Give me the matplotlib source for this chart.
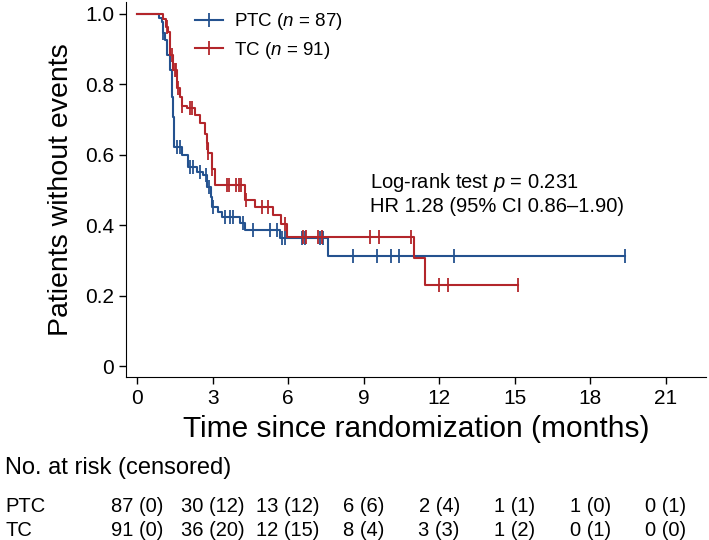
import numpy as np
import matplotlib
matplotlib.use("Agg")
import matplotlib.pyplot as plt
from matplotlib.lines import Line2D
import matplotlib.transforms as mtransforms

plt.rcParams['font.family'] = ['Liberation Sans', 'DejaVu Sans']
plt.rcParams['mathtext.fontset'] = 'custom'
plt.rcParams['mathtext.it'] = 'Liberation Sans:italic'
plt.rcParams['mathtext.rm'] = 'Liberation Sans'

# ---- data ----
ptc_event_t = [0.87, 0.98, 1.03, 1.1, 1.2, 1.32, 1.38, 1.42, 1.48, 1.79, 2.02, 2.38, 2.62,
               2.78, 2.94, 2.98, 3.21, 3.37, 4.09, 4.29, 5.67, 7.58]
ptc_event_s = [0.989, 0.977, 0.946, 0.926, 0.884, 0.841, 0.764, 0.707, 0.622, 0.599, 0.565,
               0.551, 0.543, 0.509, 0.48, 0.452, 0.437, 0.423, 0.406, 0.386, 0.364, 0.3125]
ptc_end = 19.37
ptc_cens = [1.03, 1.31, 1.59, 1.71, 2.1, 2.23, 2.5, 2.74, 2.86, 3.0, 3.49, 3.69, 3.8, 4.21,
            4.6, 5.28, 5.56, 5.75, 5.87, 6.55, 6.67, 7.26, 7.38, 8.57, 9.52, 10.08, 10.4,
            12.6, 19.37]

tc_event_t = [1.03, 1.15, 1.23, 1.31, 1.43, 1.59, 1.7, 1.78, 1.98, 2.3, 2.5, 2.7, 2.78,
              2.82, 2.98, 3.1, 4.29, 4.7, 5.4, 5.7, 5.95, 11.0, 11.43]
tc_event_s = [0.985, 0.963, 0.949, 0.884, 0.84, 0.79, 0.765, 0.74, 0.733, 0.713, 0.69, 0.66,
              0.633, 0.605, 0.56, 0.514, 0.472, 0.452, 0.43, 0.403, 0.367, 0.307, 0.23]
tc_end = 15.12
tc_cens = [1.19, 1.38, 1.51, 1.55, 1.62, 1.78, 2.1, 2.17, 2.78, 2.82, 2.98, 3.57, 3.65, 3.93,
           4.05, 4.13, 4.33, 4.96, 5.2, 5.87, 6.59, 6.71, 7.18, 7.34, 9.25, 9.6, 10.9, 11.98,
           12.34, 15.12]

risk_times = [0, 3, 6, 9, 12, 15, 18, 21]
ptc_risk = ['87 (0)', '30 (12)', '13 (12)', '6 (6)', '2 (4)', '1 (1)', '1 (0)', '0 (1)']
tc_risk = ['91 (0)', '36 (20)', '12 (15)', '8 (4)', '3 (3)', '1 (2)', '0 (1)', '0 (0)']

blue = '#24528f'
red = '#b3262b'


def draw_km(ax, ev_t, ev_s, end, cens, color):
    t = np.array([0.0] + ev_t + [end])
    s = np.array([1.0] + ev_s + [ev_s[-1]])
    ax.step(t, s, where='post', color=color, lw=1.5)
    c = np.array(cens)
    idx = np.searchsorted(t, c, side='right') - 1
    ax.plot(c, s[idx], ls='none', marker='|', ms=10, mew=1.3, color=color)


fig = plt.figure(figsize=(7.09, 5.4), dpi=100)
ax = fig.add_axes([126 / 709, 1 - 377 / 540, 580 / 709, 375 / 540])

draw_km(ax, ptc_event_t, ptc_event_s, ptc_end, ptc_cens, blue)
draw_km(ax, tc_event_t, tc_event_s, tc_end, tc_cens, red)

ax.set_xlim(-0.44, 22.6)
ax.set_ylim(-0.031, 1.034)
ax.set_xticks(range(0, 22, 3))
ax.set_yticks([0, 0.2, 0.4, 0.6, 0.8, 1.0])
ax.set_yticklabels(['0', '0.2', '0.4', '0.6', '0.8', '1.0'])
for sp in ['top', 'right']:
    ax.spines[sp].set_visible(False)
ax.tick_params(labelsize=15, length=5, width=1)
ax.set_xlabel('Time since randomization (months)', fontsize=21.5, labelpad=5)
ax.set_ylabel('Patients without events', fontsize=20.5, labelpad=8)

handles = [Line2D([], [], color=blue, lw=1.5, marker='|', ms=10, mew=1.3),
           Line2D([], [], color=red, lw=1.5, marker='|', ms=10, mew=1.3)]
ax.legend(handles, [r'PTC ($n$ = 87)', r'TC ($n$ = 91)'], loc='upper left',
          bbox_to_anchor=(0.09, 1.02), frameon=False, fontsize=13.5, numpoints=1,
          handlelength=1.5, handletextpad=0.6, labelspacing=0.4)

ax.text(9.25, 0.52, r'Log-rank test $p$ = 0.231', fontsize=14.5, va='center')
ax.text(9.25, 0.452, 'HR 1.28 (95% CI 0.86\u20131.90)', fontsize=14.5, va='center')

# number at risk table
trans = mtransforms.blended_transform_factory(ax.transData, fig.transFigure)
fig.text(5 / 709, 1 - 468 / 540, 'No. at risk (censored)', fontsize=17, va='center')
fig.text(5 / 709, 1 - 506 / 540, 'PTC', fontsize=14.5, va='center')
fig.text(5 / 709, 1 - 530 / 540, 'TC', fontsize=14.5, va='center')
for x, a, b in zip(risk_times, ptc_risk, tc_risk):
    ax.text(x, 1 - 506 / 540, a, transform=trans, ha='center', va='center', fontsize=14.5)
    ax.text(x, 1 - 530 / 540, b, transform=trans, ha='center', va='center', fontsize=14.5)

fig.savefig('out.png', dpi=100)
